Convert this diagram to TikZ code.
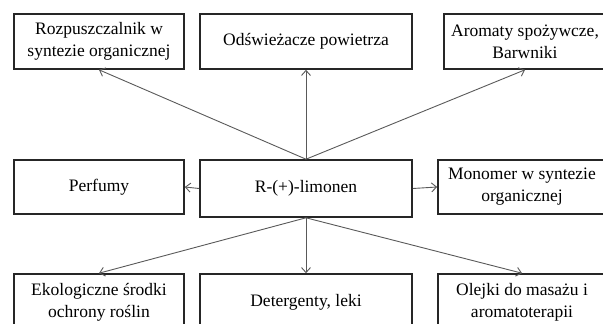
\documentclass[tikz,border=0pt]{standalone}
\usepackage{fontspec}
\setmainfont{Liberation Serif}
\usetikzlibrary{arrows.meta}

\tikzset{
  box/.style={draw=black!85,line width=1.6pt,align=center,inner sep=0pt,
    font=\fontsize{17.5}{22}\selectfont},
  link/.style={draw=black!65,line width=0.9pt,-{Straight Barb[length=5pt,width=9pt]}}
}

\begin{document}
\begin{tikzpicture}[x=1pt,y=-1pt]
        \useasboundingbox (0,0) rectangle (603,324);
        \clip (0,0) rectangle (603,324);

        % top row
        \node[box,minimum width=170pt,minimum height=55pt] (rozp) at (99,41.5) {Rozpuszczalnik w\\syntezie organicznej};
        \node[box,minimum width=212pt,minimum height=55pt] (odsw) at (306,41.5) {Odświeżacze powietrza};
        \node[box,minimum width=162pt,minimum height=55pt] (arom) at (525,41.5) {Aromaty spożywcze,\\Barwniki};

        % middle row
        \node[box,minimum width=170pt,minimum height=54pt] (perf) at (99,187) {Perfumy};
        \node[box,minimum width=212pt,minimum height=57pt] (limonen) at (306,188.5) {R-(+)-limonen};
        \node[box,minimum width=168pt,minimum height=54pt] (mono) at (522,187) {Monomer w syntezie\\organicznej};

        % bottom row
        \node[box,minimum width=170pt,minimum height=56pt] (ekol) at (99,302) {Ekologiczne środki\\ochrony roślin};
        \node[box,minimum width=212pt,minimum height=56pt] (dete) at (306,302) {Detergenty, leki};
        \node[box,minimum width=168pt,minimum height=56pt] (olej) at (522,302) {Olejki do masażu i\\aromatoterapii};

        \draw[link] (limonen.north) -- (rozp.south);
        \draw[link] (limonen.north) -- (odsw.south);
        \draw[link] (limonen.north) -- (arom.south);
        \draw[link] (limonen.west) -- (perf.east);
        \draw[link] (limonen.east) -- (mono.west);
        \draw[link] (limonen.south) -- (ekol.north);
        \draw[link] (limonen.south) -- (dete.north);
        \draw[link] (limonen.south) -- (olej.north);
    \end{tikzpicture}
\end{document}
